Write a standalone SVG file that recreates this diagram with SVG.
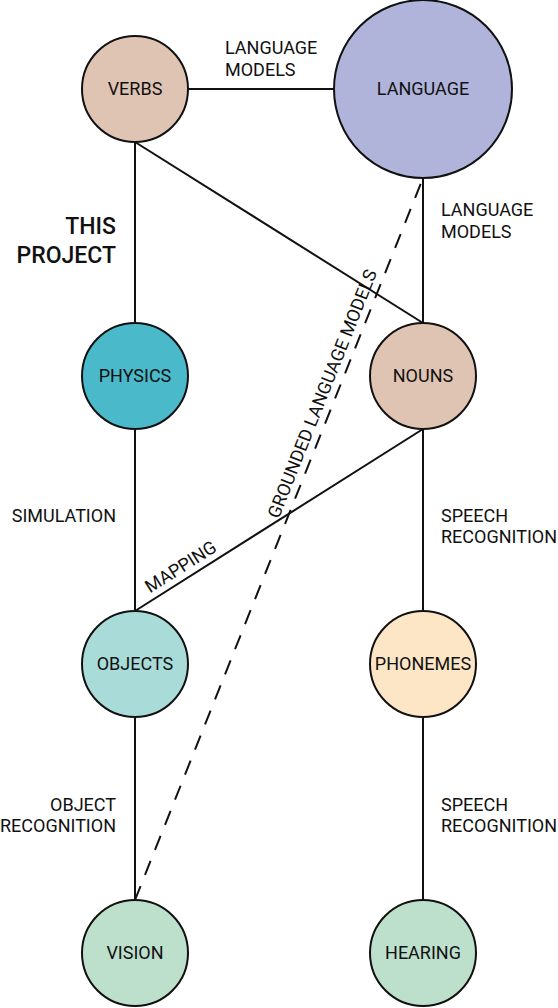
<svg xmlns="http://www.w3.org/2000/svg" width="558" height="1008" viewBox="0 0 558 1008">
<style>
text{font-family:Roboto,"Liberation Sans",sans-serif;font-size:18px;fill:#111}
.c{text-anchor:middle}
.e{text-anchor:end}
.node circle{stroke:#111;stroke-width:2}
.edge{stroke:#111;stroke-width:2;fill:none}
.dash{stroke-dasharray:15 12}
.big{font-size:23px;font-weight:500}
</style>
<rect width="558" height="1008" fill="#fff"/>
<g id="connectors">
<line class="edge" x1="188" y1="89" x2="334" y2="89"/>
<line class="edge" x1="423" y1="178" x2="423" y2="323"/>
<line class="edge" x1="135" y1="142" x2="135" y2="323"/>
<line class="edge" x1="135" y1="142" x2="423" y2="323"/>
<line class="edge" x1="135" y1="429" x2="135" y2="611"/>
<line class="edge" x1="423" y1="429" x2="135" y2="611"/>
<line class="edge" x1="423" y1="429" x2="423" y2="611"/>
<line class="edge" x1="135" y1="717" x2="135" y2="900"/>
<line class="edge" x1="423" y1="717" x2="423" y2="900"/>
<line class="edge dash" x1="135" y1="900" x2="423" y2="178"/>
<text x="225" y="54">LANGUAGE</text>
<text x="225" y="76">MODELS</text>
<text x="441" y="216">LANGUAGE</text>
<text x="441" y="238">MODELS</text>
<text class="e" x="116" y="522">SIMULATION</text>
<text x="441" y="522">SPEECH</text>
<text x="441" y="543">RECOGNITION</text>
<text class="e" x="116" y="811">OBJECT</text>
<text class="e" x="116" y="832">RECOGNITION</text>
<text x="441" y="811">SPEECH</text>
<text x="441" y="832">RECOGNITION</text>
<text class="c" transform="translate(184 572) rotate(-32.29)">MAPPING</text>
<text class="c" transform="translate(328 396) rotate(-68.25)">GROUNDED LANGUAGE MODELS</text>
</g>
<text class="e big" x="116" y="234">THIS</text>
<text class="e big" x="116" y="263">PROJECT</text>
<g id="verbs" class="node"><circle cx="135" cy="89" r="53" fill="#dfc4b4"/><text class="c" x="135" y="95">VERBS</text></g>
<g id="language" class="node"><circle cx="423" cy="89" r="89" fill="#b0b4db"/><text class="c" x="423" y="95">LANGUAGE</text></g>
<g id="physics" class="node"><circle cx="135" cy="376" r="53" fill="#4ab9c9"/><text class="c" x="135" y="382">PHYSICS</text></g>
<g id="nouns" class="node"><circle cx="423" cy="376" r="53" fill="#dfc4b4"/><text class="c" x="423" y="382">NOUNS</text></g>
<g id="objects" class="node"><circle cx="135" cy="664" r="53" fill="#a9dbd8"/><text class="c" x="135" y="670">OBJECTS</text></g>
<g id="phonemes" class="node"><circle cx="423" cy="664" r="53" fill="#fde6c6"/><text class="c" x="423" y="670">PHONEMES</text></g>
<g id="vision" class="node"><circle cx="135" cy="953" r="53" fill="#bde0cc"/><text class="c" x="135" y="959">VISION</text></g>
<g id="hearing" class="node"><circle cx="423" cy="953" r="53" fill="#bde0cc"/><text class="c" x="423" y="959">HEARING</text></g>
</svg>
